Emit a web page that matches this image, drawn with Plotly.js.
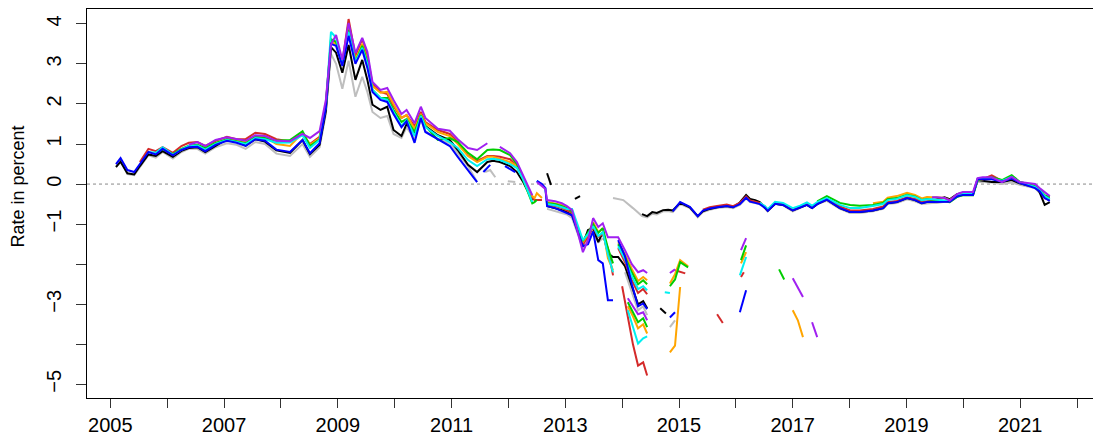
<!DOCTYPE html>
<html>
<head>
<meta charset="utf-8">
<script src="https://cdn.plot.ly/plotly-3.0.1.min.js"></script>
<style>html,body{margin:0;padding:0;background:#fff;}#chart{width:1093px;height:438px;}</style>
</head>
<body>
<div id="chart"></div>
<script>
const N = null;
// ---------- main period (2005 - mid 2014) ----------
const datesMain = [2005.10,2005.18,2005.30,2005.42,2005.52,2005.67,2005.80,2005.92,2006.10,2006.25,2006.38,2006.53,2006.67,2006.85,2007.05,2007.22,2007.38,2007.55,2007.72,2007.92,2008.16,2008.38,2008.51,2008.68,2008.79,2008.88,2008.97,2009.08,2009.19,2009.31,2009.43,2009.52,2009.61,2009.75,2009.87,2009.98,2010.12,2010.21,2010.35,2010.46,2010.54,2010.76,2010.97,2011.11,2011.29,2011.45,2011.63,2011.73,2011.85,2012.03,2012.15,2012.26,2012.42,2012.46,2012.50,2012.59,2012.65,2012.68,2012.82,2012.94,2013.03,2013.12,2013.22,2013.31,2013.40,2013.49,2013.58,2013.66,2013.75,2013.84,2013.88,2013.93,2014.05,2014.17,2014.28,2014.37,2014.44];
const grayMain = [0.45,0.58,0.25,0.22,0.42,0.72,0.66,0.80,0.64,0.80,0.88,0.88,0.76,0.92,1.02,0.98,0.88,1.05,1.00,0.76,0.70,1.00,0.68,0.92,1.75,3.25,3.00,2.38,3.08,2.18,2.68,2.30,1.80,1.65,1.70,1.25,1.15,1.42,1.12,1.62,1.32,1.12,1.02,0.78,0.45,0.05,N,N,N,N,N,N,N,N,N,N,N,-0.62,-0.68,-0.72,-0.76,-0.85,-1.25,-1.60,-1.35,-1.20,-1.45,-1.35,N,N,N,N,-2.20,-2.70,-3.15,-3.05,-3.27];
const blackMain = [0.42,0.56,0.27,0.24,0.45,0.74,0.70,0.82,0.68,0.83,0.90,0.92,0.80,0.96,1.12,1.08,0.96,1.12,1.06,0.84,0.78,1.10,0.75,0.98,1.82,3.42,3.28,2.78,3.47,2.60,3.10,2.60,1.98,1.85,1.93,1.35,1.20,1.50,1.28,1.75,1.45,1.22,1.10,0.85,0.48,0.30,0.55,0.58,0.55,0.45,0.30,0.05,-0.40,N,N,N,N,-0.55,-0.60,-0.65,-0.70,-0.78,-1.15,-1.50,-1.15,-1.10,-1.45,-1.20,-1.73,-1.82,-1.82,-1.82,-2.05,-2.55,-3.00,-2.92,-3.10];
const redMain = [N,N,N,N,0.55,0.88,0.82,0.92,0.78,0.95,1.03,1.05,0.95,1.08,1.18,1.12,1.12,1.28,1.25,1.12,1.06,1.25,1.00,1.18,2.00,3.60,3.55,3.05,4.12,3.20,3.62,3.20,2.50,2.30,2.25,1.95,1.65,1.72,1.45,1.80,1.55,1.35,1.25,1.05,0.72,0.58,0.70,0.70,0.68,0.62,0.45,0.15,-0.35,-0.40,-0.40,-0.40,N,-0.52,-0.55,-0.60,-0.66,-0.72,-1.15,-1.50,-1.32,-1.08,-1.32,-1.25,-1.60,-2.28,N,-1.60,-1.95,-2.40,-2.72,-2.62,-2.75];
const orangeMain = [N,N,N,N,N,N,N,N,0.72,0.86,0.93,0.97,0.88,1.02,1.12,1.08,1.05,1.20,1.17,1.00,0.95,1.28,0.98,1.15,1.95,3.55,3.50,3.00,3.90,3.10,3.50,3.10,2.45,2.28,2.30,2.00,1.65,1.72,1.38,1.75,1.52,1.30,1.20,1.00,0.70,0.55,0.68,0.68,0.62,0.55,0.45,0.15,-0.30,-0.35,-0.23,-0.35,N,-0.45,-0.48,-0.52,-0.58,-0.67,-1.10,-1.45,-1.25,-0.95,-1.20,-1.10,-1.85,-2.15,N,-1.45,-1.75,-2.12,-2.42,-2.32,-2.40];
const greenMain = [N,N,N,N,N,N,0.76,0.88,0.75,0.88,0.96,0.98,0.90,1.03,1.12,1.06,1.02,1.18,1.15,1.08,1.10,1.32,0.95,1.12,1.95,3.62,3.55,3.00,3.85,3.05,3.45,3.05,2.35,2.15,2.15,1.85,1.55,1.62,1.30,1.72,1.45,1.10,1.15,1.05,0.78,0.62,0.85,0.86,0.85,0.72,0.50,0.10,-0.48,-0.45,-0.40,N,N,-0.48,-0.50,-0.55,-0.60,-0.68,-1.10,-1.42,-1.22,-1.00,-1.22,-1.10,-1.60,-1.98,N,-1.50,-1.82,-2.20,-2.50,-2.40,-2.50];
const cyanMain = [N,N,N,N,N,0.80,0.78,0.92,0.73,0.86,0.95,0.96,0.86,1.00,1.10,1.05,1.00,1.15,1.12,1.03,1.04,1.22,0.90,1.10,1.95,3.80,3.65,3.00,3.80,3.05,3.40,3.00,2.35,2.15,2.10,1.80,1.45,1.60,1.20,1.70,1.42,1.20,1.05,0.90,0.60,0.45,0.62,0.63,0.60,0.50,0.40,0.12,-0.45,N,0.08,-0.02,-0.10,-0.50,-0.53,-0.58,-0.62,-0.62,-1.05,-1.40,-1.25,-1.05,-1.30,-1.20,-1.75,-2.20,N,-1.55,-1.88,-2.30,-2.62,-2.55,-2.65];
const blueMain = [0.50,0.65,0.35,0.30,0.50,0.80,0.74,0.88,0.72,0.85,0.92,0.93,0.82,0.98,1.08,1.03,0.95,1.12,1.08,0.86,0.80,1.10,0.77,1.02,1.90,3.50,3.45,2.95,3.70,3.00,3.35,2.90,2.30,2.10,2.05,1.75,1.42,1.57,1.03,1.65,1.30,1.12,0.95,0.68,0.35,0.05,N,N,N,N,N,N,N,N,0.08,0.00,-0.10,-0.55,-0.60,-0.68,-0.72,-0.78,-1.20,-1.55,-1.50,-1.18,-1.90,-1.98,-2.90,-2.90,N,-1.40,-1.80,-2.50,-3.05,-2.98,-3.12];
const purpleMain = [N,N,N,N,N,N,N,N,N,N,0.98,1.05,0.95,1.10,1.17,1.12,1.08,1.22,1.20,1.08,1.07,1.25,1.15,1.32,2.10,3.48,3.72,3.10,4.02,3.27,3.65,3.30,2.55,2.35,2.40,2.10,1.75,1.85,1.52,1.93,1.65,1.38,1.33,1.12,0.90,0.85,1.02,N,0.93,0.77,0.55,0.22,-0.28,N,0.05,-0.05,-0.12,-0.40,-0.43,-0.48,-0.55,-0.65,-1.20,-1.70,-1.40,-0.85,-1.07,-0.98,-1.33,-1.33,-1.33,-1.33,-1.65,-2.00,-2.20,-2.15,-2.22];

// ---------- lower group in 2014 ----------
const datesLow = [2014.00,2014.10,2014.19,2014.28,2014.37,2014.44];
const redLow = [-2.55,-3.34,-4.00,-4.53,-4.45,-4.78];
const orangeLow = [N,-3.05,-3.30,-3.60,-3.50,-3.73];
const greenLow = [N,-2.95,-3.20,-3.45,-3.35,-3.57];
const cyanLow = [N,-3.15,-3.55,-3.98,-3.85,-3.80];
const purpleLow = [N,-2.85,-3.05,-3.25,-3.20,-3.40];

// ---------- tail (late 2013 - 2021) ----------
const datesTail = [2013.84,2014.02,2014.19,2014.35,2014.44,2014.53,2014.61,2014.72,2014.81,2014.89,2015.02,2015.19,2015.33,2015.42,2015.54,2015.67,2015.84,2015.95,2016.07,2016.18,2016.25,2016.34,2016.42,2016.51,2016.56,2016.69,2016.83,2017.00,2017.13,2017.25,2017.34,2017.43,2017.60,2017.83,2018.01,2018.18,2018.41,2018.59,2018.67,2018.83,2019.01,2019.15,2019.27,2019.36,2019.45,2019.53,2019.67,2019.76,2019.89,2019.99,2020.17,2020.25,2020.34,2020.50,2020.68,2020.85,2020.99,2021.12,2021.26,2021.34,2021.43,2021.52];
const grayTail = [-0.35,-0.40,-0.60,-0.80,-0.83,-0.74,-0.76,-0.68,-0.67,-0.70,-0.50,-0.60,-0.83,-0.70,-0.64,-0.60,-0.57,-0.60,-0.52,-0.36,-0.45,-0.48,-0.50,-0.60,-0.68,-0.50,-0.53,-0.68,-0.60,-0.52,-0.60,-0.50,-0.42,-0.62,-0.72,-0.72,-0.68,-0.62,-0.50,-0.47,-0.38,-0.43,-0.50,-0.48,-0.47,-0.47,-0.44,-0.45,-0.32,-0.28,-0.28,0.06,0.05,0.04,0.00,0.04,-0.02,-0.05,-0.10,-0.22,-0.33,-0.37];
const blackTail = [N,N,N,-0.75,-0.80,-0.70,-0.72,-0.65,-0.64,-0.66,-0.47,-0.58,-0.80,-0.68,-0.62,-0.58,-0.55,-0.58,-0.46,-0.27,-0.37,-0.40,-0.45,-0.59,-0.67,-0.49,-0.52,-0.66,-0.59,-0.52,-0.60,-0.50,-0.39,-0.60,-0.70,-0.70,-0.66,-0.60,-0.48,-0.45,-0.35,-0.40,-0.48,-0.45,-0.42,-0.38,-0.33,-0.38,-0.25,-0.22,-0.24,0.10,0.08,0.05,0.05,0.10,0.02,-0.03,-0.06,-0.20,-0.52,-0.45];
const redTail = [N,N,N,N,N,N,N,N,N,N,N,N,N,-0.64,-0.58,-0.55,-0.51,-0.55,-0.47,-0.31,-0.41,-0.44,-0.47,-0.56,-0.64,-0.47,-0.50,-0.65,-0.57,-0.50,-0.57,-0.48,-0.38,-0.56,-0.66,-0.66,-0.62,-0.56,-0.45,-0.42,-0.33,-0.37,-0.45,-0.43,-0.43,-0.44,-0.42,-0.43,-0.30,-0.25,-0.25,0.12,0.12,0.22,0.08,0.15,0.04,-0.02,-0.08,-0.15,-0.35,-0.40];
const orangeTail = [N,N,N,N,N,N,N,N,N,N,N,N,N,N,N,N,N,N,N,N,N,N,N,N,N,N,N,N,N,N,N,N,N,N,N,N,-0.48,-0.44,-0.34,-0.30,-0.22,-0.27,-0.36,-0.32,-0.33,-0.33,-0.35,-0.40,-0.27,-0.24,-0.26,0.10,0.12,0.15,0.07,0.16,0.05,0.00,-0.04,-0.12,-0.30,-0.35];
const greenTail = [N,N,N,N,N,N,N,N,N,N,N,N,N,N,N,N,N,N,N,N,N,N,N,N,N,N,N,N,N,N,N,-0.43,-0.30,-0.47,-0.52,-0.54,-0.52,-0.47,-0.38,-0.35,-0.27,-0.31,-0.40,-0.37,-0.38,-0.40,-0.42,-0.45,-0.32,-0.28,-0.28,0.10,0.13,0.17,0.10,0.22,0.06,0.00,-0.05,-0.12,-0.28,-0.33];
const cyanTail = [N,N,N,N,N,N,N,N,N,N,N,N,N,N,N,N,N,N,N,N,N,N,-0.47,-0.55,-0.63,-0.44,-0.47,-0.60,-0.54,-0.46,-0.54,-0.45,-0.35,-0.52,-0.60,-0.60,-0.55,-0.50,-0.40,-0.37,-0.28,-0.32,-0.40,-0.38,-0.38,-0.39,-0.40,-0.42,-0.29,-0.25,-0.25,0.12,0.14,0.14,0.08,0.18,0.04,-0.01,-0.07,-0.15,-0.30,-0.38];
const blueTail = [N,N,N,N,N,N,N,N,N,-0.68,-0.45,-0.57,-0.80,-0.66,-0.61,-0.58,-0.55,-0.58,-0.50,-0.34,-0.44,-0.47,-0.50,-0.59,-0.67,-0.49,-0.52,-0.66,-0.59,-0.52,-0.60,-0.50,-0.39,-0.60,-0.70,-0.70,-0.66,-0.60,-0.48,-0.45,-0.35,-0.40,-0.48,-0.45,-0.45,-0.45,-0.44,-0.44,-0.31,-0.27,-0.27,0.12,0.12,0.12,0.06,0.14,0.03,-0.03,-0.10,-0.18,-0.35,-0.42];
const purpleTail = [N,N,N,N,N,N,N,N,N,N,N,N,N,N,N,N,N,N,N,N,N,N,N,N,N,N,N,N,N,N,N,N,N,N,N,N,N,N,N,N,N,N,N,N,-0.33,-0.33,-0.35,-0.41,-0.25,-0.20,-0.20,0.15,0.17,0.17,0.05,0.18,0.05,0.02,0.00,-0.10,-0.20,-0.30];

// ---------- short fragments (null separates pieces) ----------
const grayFragX = [2011.59,2011.68,2011.77,N,2011.99,2012.12,N,2014.84,2014.93];
const grayFragY = [0.30,0.35,0.17,N,0.07,0.05,N,-3.57,-3.40];
const blackFragX = [2012.68,2012.75,N,2013.17,2013.26,N,2014.67,2014.77];
const blackFragY = [0.27,-0.02,N,-0.37,-0.30,N,-3.10,-3.23];
const redFragX = [2014.93,2015.11,N,2015.67,2015.77,N,2016.09,2016.14];
const redFragY = [-2.15,-2.23,N,-3.25,-3.47,N,-2.32,-2.20];
const orangeFragX = [2014.84,2014.93,2015.02,2015.16,N,2014.84,2014.93,2015.02,N,2016.09,2016.18,N,2017.00,2017.09,2017.18];
const orangeFragY = [-2.48,-2.25,-1.90,-2.05,N,-4.20,-4.03,-2.57,N,-1.98,-1.70,N,-3.15,-3.40,-3.82];
const greenFragX = [2014.84,2014.93,2015.02,2015.16,N,2016.09,2016.18,N,2016.76,2016.85];
const greenFragY = [-2.55,-2.38,-1.95,-2.08,N,-1.90,-1.53,N,-2.13,-2.38];
const cyanFragX = [2014.75,2014.84,N,2016.07,2016.18];
const cyanFragY = [-2.70,-2.72,N,-2.28,-1.82];
const blueFragX = [2011.56,2011.68,N,2011.94,2012.12,N,2014.84,2014.93,N,2016.07,2016.18];
const blueFragY = [0.30,0.48,N,0.45,0.30,N,-3.33,-3.20,N,-3.20,-2.65];
const purpleFragX = [2014.84,2014.93,N,2016.09,2016.18,N,2017.00,2017.18,N,2017.34,2017.43];
const purpleFragY = [-2.22,-2.13,N,-1.65,-1.35,N,-2.35,-2.82,N,-3.45,-3.82];

// ---------- axes ----------
const xTicks = [2005,2006,2007,2008,2009,2010,2011,2012,2013,2014,2015,2016,2017,2018,2019,2020,2021,2022];
const xTickText = ['2005','','2007','','2009','','2011','','2013','','2015','','2017','','2019','','2021',''];
const yTicks = [-5,-4,-3,-2,-1,0,1,2,3,4];
const yTickText = ['\u22125','','\u22123','','\u22121','0','1','2','3','4'];
const yTitle = 'Rate in percent';

const colors = {gray:'#BEBEBE', black:'#000000', red:'#D42A2A', orange:'#FFA500', green:'#00CD00', cyan:'#00F0F0', blue:'#0000FF', purple:'#A020F0'};

function ln(x, y, c) {
  return {type:'scatter', mode:'lines', x:x, y:y, connectgaps:false, hoverinfo:'skip', showlegend:false,
          line:{color:c, width:2}};
}
const traces = [
  ln(datesMain, grayMain, colors.gray), ln(datesTail, grayTail, colors.gray), ln(grayFragX, grayFragY, colors.gray),
  ln(datesMain, blackMain, colors.black), ln(datesTail, blackTail, colors.black), ln(blackFragX, blackFragY, colors.black),
  ln(datesMain, redMain, colors.red), ln(datesTail, redTail, colors.red), ln(datesLow, redLow, colors.red), ln(redFragX, redFragY, colors.red),
  ln(datesMain, orangeMain, colors.orange), ln(datesTail, orangeTail, colors.orange), ln(datesLow, orangeLow, colors.orange), ln(orangeFragX, orangeFragY, colors.orange),
  ln(datesMain, greenMain, colors.green), ln(datesTail, greenTail, colors.green), ln(datesLow, greenLow, colors.green), ln(greenFragX, greenFragY, colors.green),
  ln(datesMain, cyanMain, colors.cyan), ln(datesTail, cyanTail, colors.cyan), ln(datesLow, cyanLow, colors.cyan), ln(cyanFragX, cyanFragY, colors.cyan),
  ln(datesMain, blueMain, colors.blue), ln(datesTail, blueTail, colors.blue), ln(blueFragX, blueFragY, colors.blue),
  ln(datesMain, purpleMain, colors.purple), ln(datesTail, purpleTail, colors.purple), ln(datesLow, purpleLow, colors.purple), ln(purpleFragX, purpleFragY, colors.purple)
];

const fontFam = 'Liberation Sans, Arial, Helvetica, sans-serif';
const layout = {
  width:1093, height:438,
  margin:{l:87, r:0, t:9, b:40},
  paper_bgcolor:'#ffffff', plot_bgcolor:'#ffffff',
  showlegend:false,
  font:{family:fontFam, color:'#000'},
  xaxis:{range:[2004.59, 2022.28], tickmode:'array', tickvals:xTicks, ticktext:xTickText,
         ticks:'outside', ticklen:9, tickwidth:1, tickcolor:'#333',
         showline:true, linecolor:'#000', linewidth:1, mirror:true,
         showgrid:false, zeroline:false, tickangle:0, automargin:false,
         tickfont:{family:fontFam, size:20, color:'#000'}, ticklabelstandoff:0},
  yaxis:{range:[-5.34, 4.37], tickmode:'array', tickvals:yTicks, ticktext:yTickText,
         ticks:'outside', ticklen:10, tickwidth:1, tickcolor:'#333',
         showline:true, linecolor:'#000', linewidth:1, mirror:false,
         showgrid:false, zeroline:false, tickangle:-90, automargin:false,
         tickfont:{family:fontFam, size:20, color:'#000'}, ticklabelstandoff:7},
  annotations:[{text:yTitle, textangle:-90, xref:'paper', x:-0.0686, xanchor:'center',
                yref:'y', y:-0.06, yanchor:'middle', showarrow:false,
                font:{family:fontFam, size:18, color:'#000'}}],
  shapes:[{type:'line', xref:'paper', x0:0, x1:1, yref:'y', y0:0, y1:0,
           line:{color:'#888888', width:1, dash:'dot'}, layer:'below'}]
};
Plotly.newPlot('chart', traces, layout, {staticPlot:true, displayModeBar:false});
</script>
</body>
</html>
